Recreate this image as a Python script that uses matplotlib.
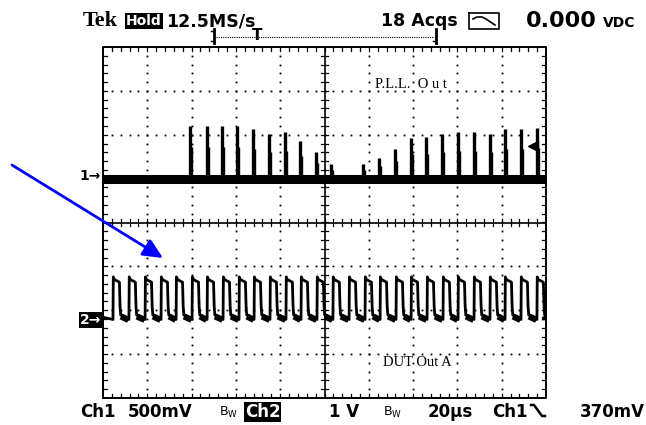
import numpy as np
import matplotlib
matplotlib.use('Agg')
import matplotlib.pyplot as plt
from matplotlib.lines import Line2D

W, H = 646, 425

# scope settings
time_per_div_us = 20.0
ch1_volts_per_div = 0.5
ch2_volts_per_div = 1.0
ch1_ground_div = 1.0
ch2_ground_div = -2.23
trigger_level_v = 0.37

# Ch1 (P.L.L. Out): spike times in us and peak heights in V
ch1_pulse_t = [-60.7, -53.0, -46.3, -39.5, -32.3, -25.1, -17.8, -11.1, -3.8, 2.9,
               17.4, 24.6, 31.8, 39.1, 45.8, 53.0, 60.3, 67.5, 74.7, 81.5, 88.7, 95.9]
ch1_pulse_v = [0.60, 0.60, 0.60, 0.60, 0.56, 0.51, 0.53, 0.43, 0.30, 0.17,
               0.17, 0.24, 0.34, 0.46, 0.47, 0.51, 0.53, 0.53, 0.51, 0.57, 0.56, 0.58]

# Ch2 (DUT Out A): rising edge times in us, levels in V
ch2_rise_t = [-95.5, -88.3, -81.0, -73.8, -67.0, -59.8, -53.0, -45.8, -38.6, -31.8,
              -24.6, -17.4, -10.6, -3.4, 3.8, 11.1, 18.3, 25.1, 32.3, 39.1,
              46.3, 53.5, 60.3, 67.5, 74.7, 81.5, 88.7, 95.9]
ch2_high_v = 0.93
ch2_low_v = 0.07
ch2_high_time_us = 3.2

top_labels = ['12.5MS/s', '18 Acqs']
bottom_labels = ['Ch1', '500mV', '1 V', '20\u00b5s', 'Ch1', '370mV']


def px(x, y):
    return x / W, 1 - y / H


def fig_line(xs, ys, **kw):
    fig.add_artist(Line2D([x / W for x in xs], [1 - y / H for y in ys],
                          transform=fig.transFigure, **kw))


fig = plt.figure(figsize=(W / 100, H / 100), dpi=100)
ax = fig.add_axes([103 / W, 1 - 398 / H, 443 / W, 351 / H])
ax.set_xlim(-5 * time_per_div_us, 5 * time_per_div_us)
ax.set_ylim(-4, 4)
ax.axis('off')

# graticule
x0, x1 = -5 * time_per_div_us, 5 * time_per_div_us
step = time_per_div_us / 5
ax.plot([x0, x1, x1, x0, x0], [-4, -4, 4, 4, -4], color='black', lw=1.4, clip_on=False)
ax.plot([x0, x1], [0, 0], color='black', lw=1.2)
ax.plot([0, 0], [-4, 4], color='black', lw=1.2)

xt = np.arange(x0 + step, x1 - step / 2, step)
yt = np.arange(-3.8, 3.9, 0.2)
tl_y = 0.09
tl_x = 1.8
for x in xt:
    ax.plot([x, x], [4, 4 - tl_y], color='black', lw=0.9)
    ax.plot([x, x], [-4, -4 + tl_y], color='black', lw=0.9)
    ax.plot([x, x], [-0.08, 0.08], color='black', lw=0.9)
for y in yt:
    ax.plot([x0, x0 + tl_x], [y, y], color='black', lw=0.9)
    ax.plot([x1, x1 - tl_x], [y, y], color='black', lw=0.9)
    ax.plot([-1.6, 1.6], [y, y], color='black', lw=0.9)

for k in [-4, -3, -2, -1, 1, 2, 3, 4]:
    gx = k * time_per_div_us
    ax.plot(np.full(len(yt), gx), yt, ls='none', marker='s', ms=1.3, color='black', mew=0)
for gy in [-3, -2, -1, 1, 2, 3]:
    ax.plot(xt, np.full(len(xt), gy), ls='none', marker='s', ms=1.3, color='black', mew=0)

# Ch1 trace
ax.plot([x0, x1], [ch1_ground_div, ch1_ground_div], color='black', lw=6.5, solid_capstyle='butt')
peaks = [ch1_ground_div + v / ch1_volts_per_div for v in ch1_pulse_v]
ax.vlines(ch1_pulse_t, ch1_ground_div, peaks, color='black', lw=2.4)
sec = [ch1_ground_div + 0.6 * v / ch1_volts_per_div for v in ch1_pulse_v]
ax.vlines([t + 0.9 for t in ch1_pulse_t], ch1_ground_div, sec, color='black', lw=1.0)

# Ch2 trace
hi = ch2_ground_div + ch2_high_v / ch2_volts_per_div
lo = ch2_ground_div + ch2_low_v / ch2_volts_per_div
t2, y2 = [x0], [lo]
lows = []
for i, tr in enumerate(ch2_rise_t):
    tf = tr + ch2_high_time_us
    nxt = ch2_rise_t[i + 1] if i + 1 < len(ch2_rise_t) else x1
    t2 += [tr, tr + 0.15, tr + 0.6, tf - 0.3, tf, tf + 0.3, min(nxt, x1) - 0.1]
    y2 += [lo - 0.05, hi + 0.06, hi, hi - 0.06, lo + 0.25, lo + 0.05, lo - 0.05]
    if tf + 0.4 < x1:
        lows.append((tf + 0.4, min(nxt, x1) - 0.2))
t2.append(x1)
y2.append(lo)
t2 = np.clip(t2, x0, x1)
ax.plot(t2, y2, color='black', lw=2.0)
for a, b in lows:
    ax.plot([a, b], [lo + 0.02, lo - 0.06], color='black', lw=4.5, solid_capstyle='butt')

# trigger level marker
ax.plot(94, ch1_ground_div + trigger_level_v / ch1_volts_per_div, marker='<',
        ms=7, color='black', clip_on=False)

# channel ground markers
fig.text(*px(101, 176), '1\u2192', fontsize=10, fontweight='bold', ha='right', va='center')
fig.text(*px(101, 320), '2\u2192', fontsize=10, fontweight='bold', ha='right', va='center',
         color='white', bbox=dict(facecolor='black', edgecolor='none', pad=0.8))

# labels inside the screen
fig.text(*px(375, 85), 'P.L.L.  O u t', family='Liberation Serif', fontsize=10.5, va='center')
fig.text(*px(383, 362), 'DUT Out A', family='Liberation Serif', fontsize=10.5, va='center')

# top status line
fig.text(*px(83, 21), 'Tek', family='Liberation Serif', fontweight='bold', fontsize=16, va='center')
fig.text(*px(126, 21), 'Hold', color='white', fontsize=10, fontweight='bold', va='center',
         bbox=dict(facecolor='black', edgecolor='none', pad=1.0))
fig.text(*px(166, 21), top_labels[0], fontsize=12.5, fontweight='bold', va='center')
fig.text(*px(381, 21), top_labels[1], fontsize=12.5, fontweight='bold', va='center')
fig.text(*px(526, 21), '0.000', fontsize=16, fontweight='bold', va='center')
fig.text(*px(603, 23), 'VDC', fontsize=10, fontweight='bold', va='center')
fig_line([469, 499, 499, 469, 469], [13, 13, 29, 29, 13], color='black', lw=1.2)
fig_line([473, 477, 482, 486, 495], [19, 17, 17, 19, 25], color='black', lw=1.2)

# record window bracket with trigger point
fig_line([214, 214], [29, 43], color='black', lw=2)
fig_line([211, 214], [31, 31], color='black', lw=1)
fig_line([211, 214], [41, 41], color='black', lw=1)
fig_line([436, 436], [29, 43], color='black', lw=2)
fig_line([433, 436], [41, 41], color='black', lw=1)
fig_line([216, 434], [37, 37], color='black', lw=0.8, ls=(0, (1, 1)))
fig.text(*px(257, 36), 'T', fontsize=11, fontweight='bold', ha='center', va='center')

# bottom status line
yb = 412
fig.text(*px(80, yb), bottom_labels[0], fontsize=12, fontweight='bold', va='center')
fig.text(*px(128, yb), bottom_labels[1], fontsize=12, fontweight='bold', va='center')
fig.text(*px(219, yb), 'B$_\\mathregular{W}$', fontsize=9, va='center')
fig.text(*px(245, yb), 'Ch2', color='white', fontsize=12, fontweight='bold', va='center',
         bbox=dict(facecolor='black', edgecolor='none', pad=0.6))
fig.text(*px(329, yb), bottom_labels[2], fontsize=12, fontweight='bold', va='center')
fig.text(*px(383, yb), 'B$_\\mathregular{W}$', fontsize=9, va='center')
fig.text(*px(428, yb), bottom_labels[3], fontsize=12, fontweight='bold', va='center')
fig.text(*px(492, yb), bottom_labels[4], fontsize=12, fontweight='bold', va='center')
fig_line([531, 534, 542, 545], [405, 405, 416, 416], color='black', lw=1.8)
fig.text(*px(580, yb), bottom_labels[5], fontsize=12, fontweight='bold', va='center')

# blue annotation arrow
ax.annotate('', xy=(163, H - 258), xytext=(12, H - 165),
            xycoords='figure pixels', textcoords='figure pixels',
            arrowprops=dict(arrowstyle='-|>,head_length=0.6,head_width=0.28',
                            mutation_scale=20, color='blue', lw=2, shrinkA=0, shrinkB=0),
            annotation_clip=False)

fig.savefig('out.png', dpi=100)
